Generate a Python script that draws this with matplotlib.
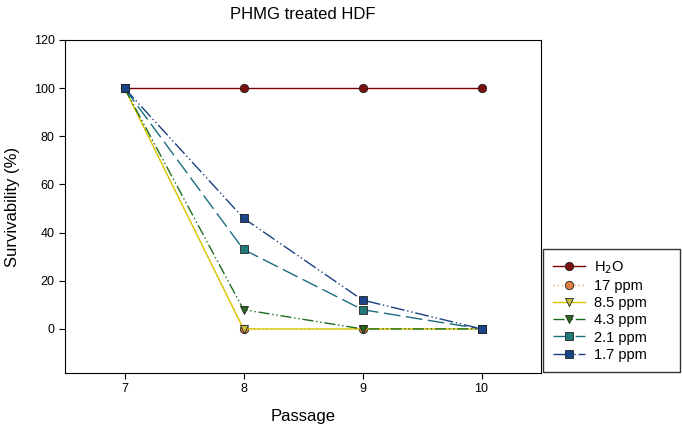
import matplotlib
matplotlib.use("Agg")
import matplotlib.pyplot as plt

plt.rcParams["font.family"] = ["Liberation Sans", "DejaVu Sans"]

passage = [7, 8, 9, 10]
h2o = [100, 100, 100, 100]
ppm17 = [100, 0, 0, 0]
ppm8_5 = [100, 0, 0, 0]
ppm4_3 = [100, 8, 0, 0]
ppm2_1 = [100, 33, 8, 0]
ppm1_7 = [100, 46, 12, 0]

fig = plt.figure(figsize=(6.82, 4.30), dpi=100)
ax = fig.add_axes([65 / 682, 1 - 373 / 430, 476 / 682, 333 / 430])

# (values, label, line colour, marker, marker face, linestyle)
series = [
    (h2o, "H$_2$O", "#7a0000", "o", "#7a1010", "-"),
    (ppm17, "17 ppm", "#f0a060", "o", "#e08040", (0, (1, 2))),
    (ppm8_5, "8.5 ppm", "#d8c800", "v", "#c8c040", "-"),
    (ppm4_3, "4.3 ppm", "#1e6e1e", "v", "#2a6a1a", (0, (8, 2, 1, 2, 1, 2))),
    (ppm2_1, "2.1 ppm", "#1a6e80", "s", "#1f7a78", (0, (12, 4))),
    (ppm1_7, "1.7 ppm", "#1a3f80", "s", "#1a4588", (0, (10, 2, 1, 2, 1, 2))),
]
for vals, lab, col, mk, mfc, ls in series:
    ax.plot(passage, vals, color=col, ls=ls, lw=1.0, marker=mk, ms=6,
            mfc=mfc, mec="#202020", mew=0.6, label=lab)

ax.set_xlim(6.5, 10.5)
ax.set_ylim(-18.3, 120)
ax.set_xticks(passage)
ax.set_yticks(range(0, 121, 20))
ax.tick_params(labelsize=9, length=4, direction="out")
ax.set_xlabel("Passage", fontsize=12, labelpad=10)
ax.set_ylabel("Survivability (%)", fontsize=12, labelpad=10)
ax.set_title("PHMG treated HDF", fontsize=12, pad=15)

fig.legend(loc="lower left",
           bbox_to_anchor=(543 / 682, 1 - 372 / 430, 137 / 682, 120 / 430),
           mode="expand", borderaxespad=0,
           fontsize=10.5, frameon=True, fancybox=False, edgecolor="black",
           handlelength=2.2, handletextpad=0.6, borderpad=0.7,
           labelspacing=0.22)

fig.savefig("out.png", dpi=100)
